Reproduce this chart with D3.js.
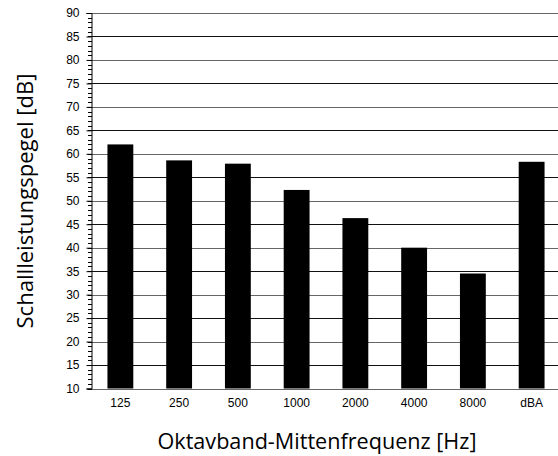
<!DOCTYPE html>
<html><head><meta charset="utf-8">
<script src="https://cdn.jsdelivr.net/npm/d3@7"></script>
<style>body{margin:0;background:#fff}svg{display:block}</style>
</head><body><svg id="c" width="558" height="456"></svg>
<script>
const categories = ["125","250","500","1000","2000","4000","8000","dBA"];
const values = [62.0, 58.6, 57.9, 52.3, 46.3, 40.0, 34.5, 58.3];
const yTicks = [10,15,20,25,30,35,40,45,50,55,60,65,70,75,80,85,90];
const xTitle = "Oktavband-Mittenfrequenz [Hz]";
const yTitle = "Schallleistungspegel [dB]";

(function(){
const svg = d3.select("#c");
const mLeft = 91, mRight = 561, mTop = 13, mBottom = 388.5;
const x = d3.scaleBand().domain(categories).range([mLeft, mRight]).paddingInner(0.56).paddingOuter(0.28);
const y = d3.scaleLinear().domain([10, 90]).range([mBottom, mTop]);

// gridlines
svg.append("g").selectAll("line").data(yTicks).join("line")
  .attr("x1", mLeft).attr("x2", 558)
  .attr("y1", d => Math.round(y(d)) + 0.5).attr("y2", d => Math.round(y(d)) + 0.5)
  .attr("stroke", (d, i) => i % 2 ? "#111" : "#666").attr("stroke-width", 1);

// bars
svg.append("g").selectAll("rect").data(values).join("rect")
  .attr("x", (d, i) => x(categories[i]))
  .attr("width", x.bandwidth())
  .attr("y", d => y(d))
  .attr("height", d => y(10) - y(d))
  .attr("fill", "#000");

// minor ticks
const minor = d3.range(10, 91, 1);
svg.append("g").selectAll("line").data(minor).join("line")
  .attr("x1", mLeft - 3).attr("x2", mLeft + 1)
  .attr("y1", d => Math.round(y(d)) + 0.5).attr("y2", d => Math.round(y(d)) + 0.5)
  .attr("stroke", "#000").attr("stroke-width", 1);

// y axis
const yAxis = d3.axisLeft(y).tickValues(yTicks).tickSize(5).tickPadding(7).tickFormat(d3.format("d"));
const ga = svg.append("g").attr("transform", `translate(${mLeft + 0.5},0)`).call(yAxis);
ga.select(".domain").attr("stroke", "#000");
ga.selectAll(".tick line").attr("stroke", "#000");
ga.selectAll(".tick text").attr("font-family", "'Liberation Sans', Arial, sans-serif").attr("font-size", 12).attr("fill", "#000");

// x axis labels
const xAxis = d3.axisBottom(x).tickSize(0).tickPadding(10);
const gx = svg.append("g").attr("transform", `translate(0,${mBottom})`).call(xAxis);
gx.select(".domain").remove();
gx.selectAll(".tick text").attr("font-family", "'Liberation Sans', Arial, sans-serif").attr("font-size", 12).attr("fill", "#000");

// titles
svg.append("text").attr("x", 317).attr("y", 449).attr("text-anchor", "middle")
  .attr("font-family", "'Open Sans', 'Noto Sans', sans-serif").attr("font-size", 21)
  .attr("textLength", 319).attr("lengthAdjust", "spacingAndGlyphs")
  .attr("fill", "#000").text(xTitle);
svg.append("text").attr("transform", "translate(33,201) rotate(-90)").attr("text-anchor", "middle")
  .attr("font-family", "'Open Sans', 'Noto Sans', sans-serif").attr("font-size", 21)
  .attr("textLength", 255).attr("lengthAdjust", "spacingAndGlyphs")
  .attr("fill", "#000").text(yTitle);
})();
</script></body></html>
